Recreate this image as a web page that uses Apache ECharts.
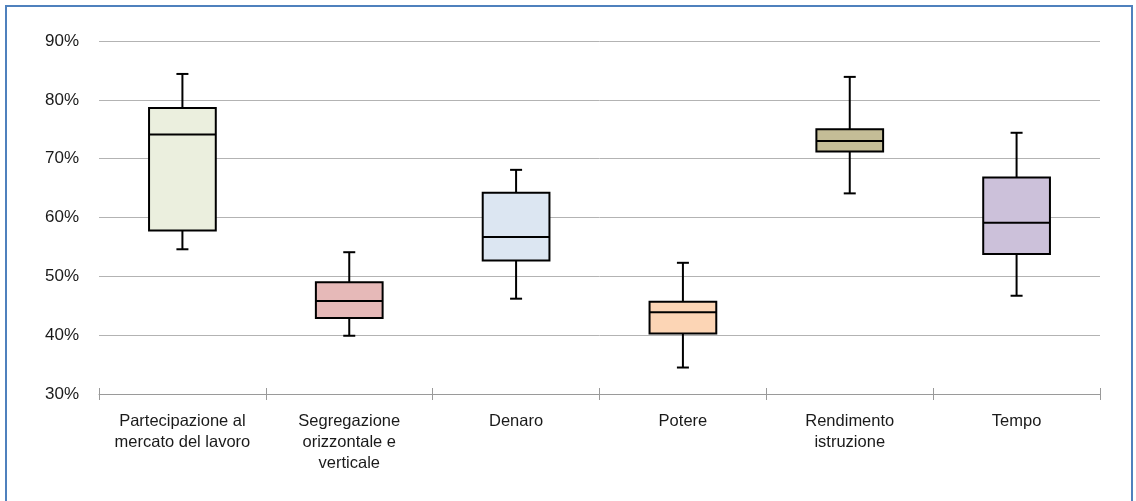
<!DOCTYPE html>
<html>
<head>
<meta charset="utf-8">
<script src="https://cdn.jsdelivr.net/npm/echarts@6/dist/echarts.min.js"></script>
<style>
html,body{margin:0;padding:0;background:#fff;}
#main{width:1136px;height:501px;}
</style>
</head>
<body>
<div id="main"></div>
<script>
const categories = ['Partecipazione al\nmercato del lavoro', 'Segregazione\norizzontale e\nverticale', 'Denaro', 'Potere', 'Rendimento\nistruzione', 'Tempo'];
const minValues    = [54.6, 39.9, 46.2, 34.5, 64.1, 46.7];
const q1Values     = [57.8, 42.9, 52.7, 40.3, 71.2, 53.8];
const medianValues = [74.1, 45.8, 56.7, 43.9, 73.0, 59.1];
const q3Values     = [78.6, 49.0, 64.2, 45.7, 75.0, 66.8];
const maxValues    = [84.4, 54.1, 68.1, 52.3, 83.9, 74.4];
const boxColors = ['#EBEFDE', '#E6B9B8', '#DCE6F2', '#FCD5B5', '#C4BD97', '#CCC1DA'];
const yTicks = [30, 40, 50, 60, 70, 80, 90];

const seriesData = categories.map((c, i) => [i, minValues[i], q1Values[i], medianValues[i], q3Values[i], maxValues[i]]);

const chart = echarts.init(document.getElementById('main'), null, {renderer: 'canvas'});
const font = '"Liberation Sans", Arial, sans-serif';

function renderBox(params, api) {
  const i = api.value(0);
  const pMin = api.coord([i, api.value(1)]);
  const pQ1 = api.coord([i, api.value(2)]);
  const pMed = api.coord([i, api.value(3)]);
  const pQ3 = api.coord([i, api.value(4)]);
  const pMax = api.coord([i, api.value(5)]);
  const bw = api.size([1, 0])[0] * 0.4;
  const cap = 12;
  const x = pMed[0];
  const lineStyle = {stroke: '#000', lineWidth: 2, fill: null};
  return {
    type: 'group',
    children: [
      {type: 'line', shape: {x1: x, y1: pQ3[1], x2: x, y2: pMax[1]}, style: lineStyle},
      {type: 'line', shape: {x1: x - cap / 2, y1: pMax[1], x2: x + cap / 2, y2: pMax[1]}, style: lineStyle},
      {type: 'line', shape: {x1: x, y1: pQ1[1], x2: x, y2: pMin[1]}, style: lineStyle},
      {type: 'line', shape: {x1: x - cap / 2, y1: pMin[1], x2: x + cap / 2, y2: pMin[1]}, style: lineStyle},
      {type: 'rect', shape: {x: x - bw / 2, y: pQ3[1], width: bw, height: pQ1[1] - pQ3[1]},
        style: {fill: boxColors[i], stroke: '#000', lineWidth: 2}},
      {type: 'line', shape: {x1: x - bw / 2, y1: pMed[1], x2: x + bw / 2, y2: pMed[1]}, style: lineStyle}
    ]
  };
}

chart.setOption({
  animation: false,
  backgroundColor: '#fff',
  graphic: [{
    type: 'rect', z: 100,
    shape: {x: 6, y: 6, width: 1126, height: 520},
    style: {fill: null, stroke: '#4F81BD', lineWidth: 2}
  }],
  grid: {left: 99, right: 36, top: 41, bottom: 107},
  xAxis: [{
    type: 'category',
    data: categories,
    boundaryGap: true,
    axisLine: {lineStyle: {color: '#9a9a9a', width: 1}},
    axisTick: {show: true, length: 6, inside: false, lineStyle: {color: '#9a9a9a'}},
    axisLabel: {interval: 0, color: '#1a1a1a', fontFamily: font, fontSize: 16.5, lineHeight: 21, margin: 17, align: 'center', verticalAlign: 'top'}
  }, {
    type: 'category',
    data: categories,
    position: 'bottom',
    boundaryGap: true,
    axisLine: {show: false},
    axisTick: {show: true, length: 6, inside: true, lineStyle: {color: '#9a9a9a'}},
    axisLabel: {show: false}
  }],
  yAxis: {
    type: 'value',
    min: yTicks[0],
    max: yTicks[yTicks.length - 1],
    interval: 10,
    axisLine: {show: false},
    axisTick: {show: false},
    splitLine: {lineStyle: {color: '#b3b3b3', width: 1}},
    axisLabel: {formatter: '{value}%', color: '#1a1a1a', fontFamily: font, fontSize: 17, margin: 20}
  },
  series: [{
    type: 'custom',
    renderItem: renderBox,
    data: seriesData,
    encode: {x: 0, y: [1, 2, 3, 4, 5]},
    z: 10
  }]
});
</script>
</body>
</html>
